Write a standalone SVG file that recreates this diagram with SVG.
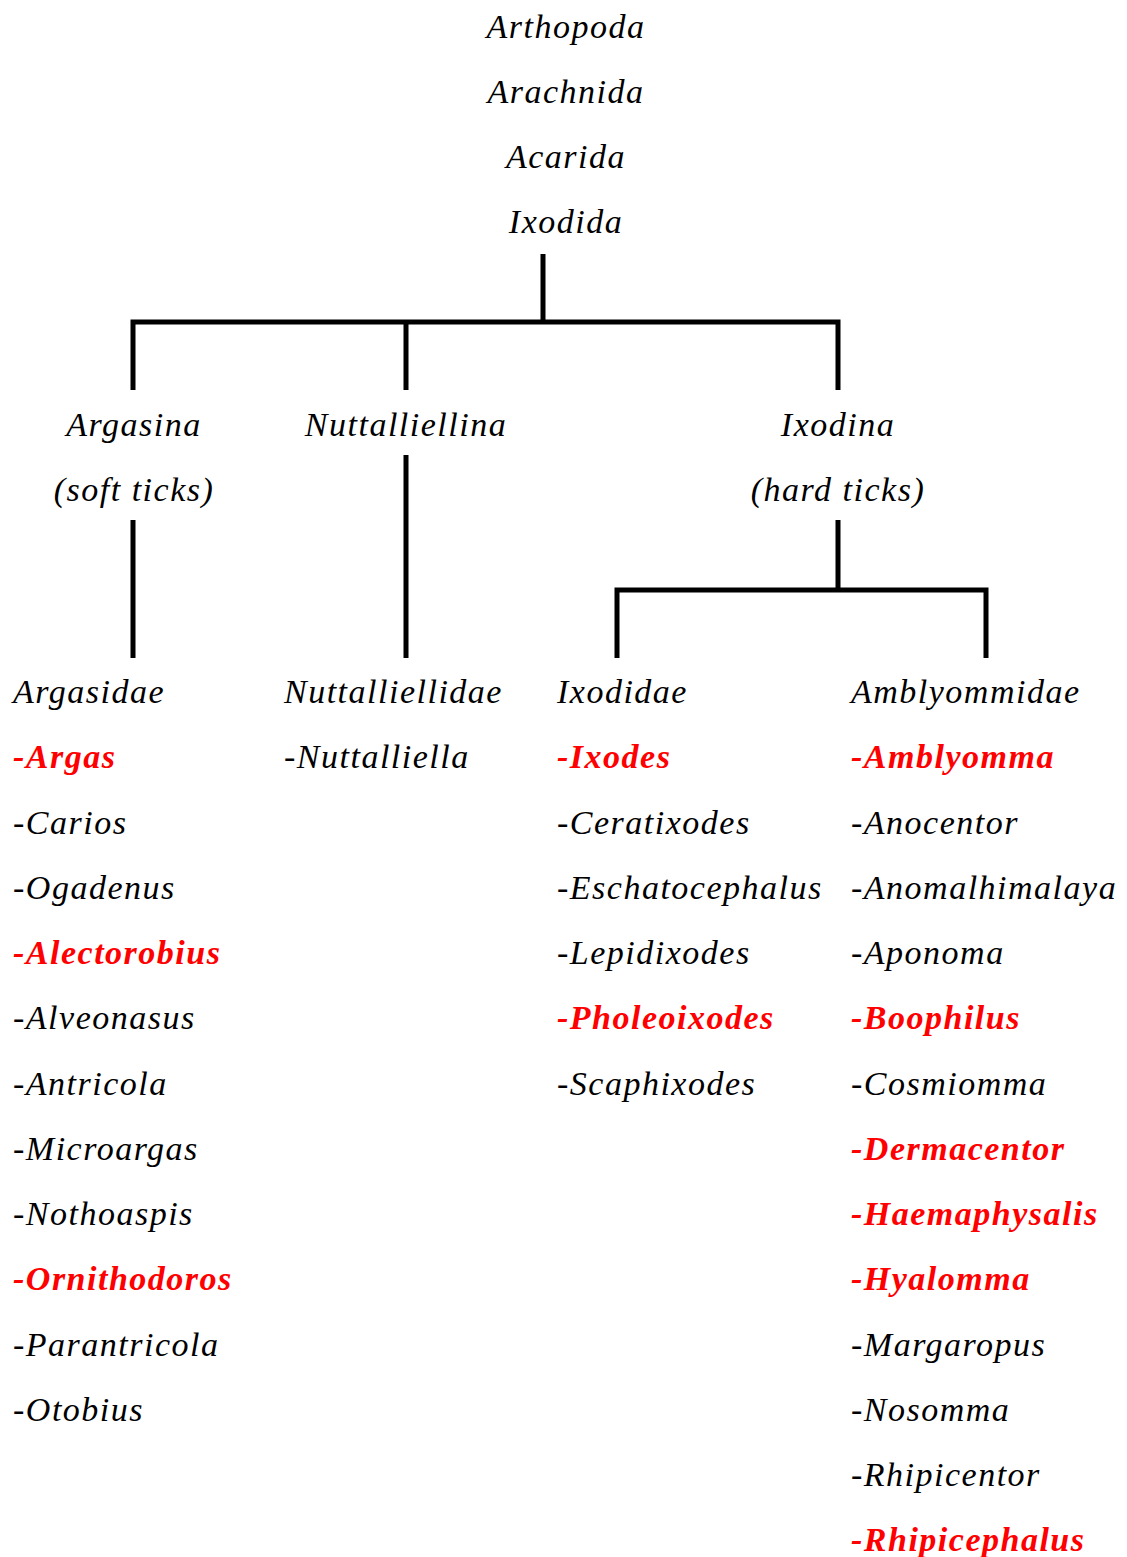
<svg xmlns="http://www.w3.org/2000/svg" width="1127" height="1557" viewBox="0 0 1127 1557">
<style>
text{font-family:"Liberation Serif","Times New Roman",serif;font-style:italic;font-size:34px;letter-spacing:1.5px;fill:#000}
.c{text-anchor:middle}
.r{fill:#ff0000;font-weight:bold}
.ln{stroke:#000;stroke-width:5;fill:none;stroke-linecap:butt;stroke-linejoin:miter}
</style>
<rect width="1127" height="1557" fill="#fff"/>
<g id="connectors">
<path class="ln" d="M543 254V322M133 390V322H838V390M406 322V390"/>
<path class="ln" d="M133 520V658"/>
<path class="ln" d="M406 455V658"/>
<path class="ln" d="M838 520V590M617 658V590H986V658"/>
</g>
<g id="top">
<text class="c" x="566" y="38">Arthopoda</text>
<text class="c" x="566" y="103">Arachnida</text>
<text class="c" x="566" y="168">Acarida</text>
<text class="c" x="566" y="233">Ixodida</text>
</g>
<g id="argasina">
<text class="c" x="134" y="436">Argasina</text>
<text class="c" x="134" y="501">(soft ticks)</text>
</g>
<g id="nuttalliellina">
<text class="c" x="406" y="436">Nuttalliellina</text>
</g>
<g id="ixodina">
<text class="c" x="838" y="436">Ixodina</text>
<text class="c" x="838" y="501">(hard ticks)</text>
</g>
<g id="argasidae">
<text x="13" y="703">Argasidae</text>
<text class="r" x="13" y="768">-Argas</text>
<text x="13" y="834">-Carios</text>
<text x="13" y="899">-Ogadenus</text>
<text class="r" x="13" y="964">-Alectorobius</text>
<text x="13" y="1029">-Alveonasus</text>
<text x="13" y="1095">-Antricola</text>
<text x="13" y="1160">-Microargas</text>
<text x="13" y="1225">-Nothoaspis</text>
<text class="r" x="13" y="1290">-Ornithodoros</text>
<text x="13" y="1356">-Parantricola</text>
<text x="13" y="1421">-Otobius</text>
</g>
<g id="nuttalliellidae">
<text x="284" y="703">Nuttalliellidae</text>
<text x="284" y="768">-Nuttalliella</text>
</g>
<g id="ixodidae">
<text x="557" y="703">Ixodidae</text>
<text class="r" x="557" y="768">-Ixodes</text>
<text x="557" y="834">-Ceratixodes</text>
<text x="557" y="899">-Eschatocephalus</text>
<text x="557" y="964">-Lepidixodes</text>
<text class="r" x="557" y="1029">-Pholeoixodes</text>
<text x="557" y="1095">-Scaphixodes</text>
</g>
<g id="amblyommidae">
<text x="851" y="703">Amblyommidae</text>
<text class="r" x="851" y="768">-Amblyomma</text>
<text x="851" y="834">-Anocentor</text>
<text x="851" y="899">-Anomalhimalaya</text>
<text x="851" y="964">-Aponoma</text>
<text class="r" x="851" y="1029">-Boophilus</text>
<text x="851" y="1095">-Cosmiomma</text>
<text class="r" x="851" y="1160">-Dermacentor</text>
<text class="r" x="851" y="1225">-Haemaphysalis</text>
<text class="r" x="851" y="1290">-Hyalomma</text>
<text x="851" y="1356">-Margaropus</text>
<text x="851" y="1421">-Nosomma</text>
<text x="851" y="1486">-Rhipicentor</text>
<text class="r" x="851" y="1551">-Rhipicephalus</text>
</g>
</svg>
